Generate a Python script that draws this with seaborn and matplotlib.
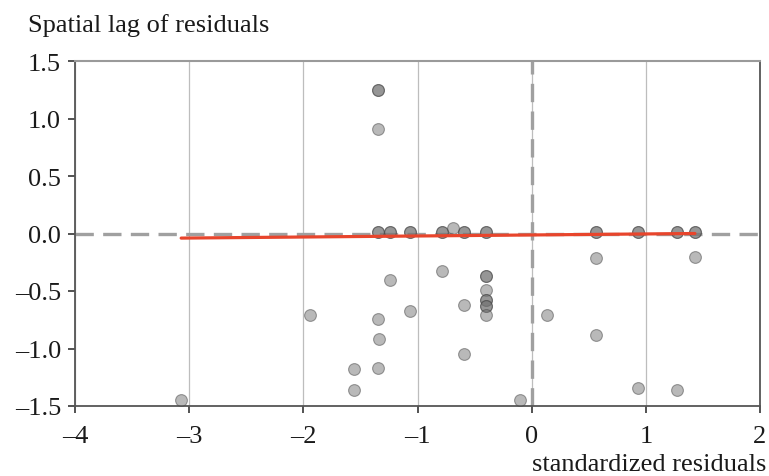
import matplotlib
matplotlib.use("Agg")
import matplotlib.pyplot as plt
import seaborn as sns
import pandas as pd

# standardized residuals (x) and spatial lag of residuals (y); repeated entries = overlapping points
x_res = [-1.35, -1.35, -1.24, -1.24, -1.07, -1.07, -0.785, -0.785, -0.59, -0.59,
         -0.40, -0.40, 0.56, 0.56, 0.93, 0.93, 1.27, 1.27, 1.43, 1.43,
         -0.69, -1.35, -1.35, -1.35,
         -3.07, -1.94, -1.555, -1.555, -1.35, -1.34, -1.35, -1.24, -1.07,
         -0.785, -0.59, -0.59, -0.40, -0.40, -0.40, -0.40, -0.40, -0.40, -0.40, -0.40,
         -0.105, 0.13, 0.56, 0.56, 0.93, 1.27, 1.43]
y_lag = [0.01, 0.01, 0.01, 0.01, 0.01, 0.01, 0.01, 0.01, 0.01, 0.01,
         0.01, 0.01, 0.01, 0.01, 0.01, 0.01, 0.01, 0.01, 0.01, 0.01,
         0.045, 1.245, 1.245, 0.91,
         -1.445, -0.71, -1.18, -1.36, -0.74, -0.92, -1.17, -0.40, -0.67,
         -0.33, -0.62, -1.05, -0.37, -0.37, -0.49, -0.58, -0.58, -0.63, -0.63, -0.71,
         -1.445, -0.71, -0.21, -0.88, -1.34, -1.36, -0.20]

# fitted regression line (Moran slope)
fit_x = [-3.07, 1.43]
fit_y = [-0.04, 0.0]

x_ticks = [-4, -3, -2, -1, 0, 1, 2]
y_ticks = [-1.5, -1.0, -0.5, 0.0, 0.5, 1.0, 1.5]

sns.set_style("white")
plt.rcParams['font.family'] = ['Liberation Serif', 'DejaVu Serif']
plt.rcParams['font.size'] = 19

df = pd.DataFrame({"x": x_res, "y": y_lag})
fit = pd.DataFrame({"x": fit_x, "y": fit_y})

fig = plt.figure(figsize=(7.69, 4.77), dpi=100)
ax = fig.add_axes([75/769, 1-407/477, (760-75)/769, (407-62)/477])

ax.set_xlim(-4, 2)
ax.set_ylim(-1.5, 1.5)
ax.set_xticks(x_ticks)
ax.set_yticks(y_ticks)
ax.set_xticklabels([str(v).replace("-", "\u2013") for v in x_ticks])
ax.set_yticklabels([f"{v:.1f}".replace("-", "\u2013") for v in y_ticks])

ax.grid(axis="x", color="#bdbdbd", linewidth=0.9)
ax.grid(axis="y", visible=False)
ax.set_axisbelow(True)

ax.axhline(0, color="#a0a0a0", linewidth=2.4, dashes=(5.5, 2.8), zorder=2)
ax.axvline(0, color="#a0a0a0", linewidth=2.4, dashes=(5.5, 2.8), zorder=2)

sns.scatterplot(data=df, x="x", y="y", ax=ax, s=72, color="#757575", alpha=0.5,
                edgecolor="#454545", linewidth=0.8, zorder=3, legend=False)
sns.lineplot(data=fit, x="x", y="y", ax=ax, color="#e8452c", linewidth=2.3,
             zorder=4, legend=False)

ax.set_xlabel("")
ax.set_ylabel("")

for side in ["left", "bottom", "right"]:
    ax.spines[side].set_color("#555555")
    ax.spines[side].set_linewidth(1.3)
ax.spines["top"].set_color("#9a9a9a")
ax.spines["top"].set_linewidth(1.5)

ax.tick_params(axis="both", which="major", direction="out", length=5, width=1.3,
               color="#444444", labelsize=19, labelcolor="#1a1a1a")
ax.tick_params(axis="x", pad=9, bottom=True)
ax.tick_params(axis="y", pad=5, left=True)

fig.text(28/769, 1-32/477, "Spatial lag of residuals", ha="left", va="baseline",
         fontsize=19, color="#1a1a1a")
fig.text(766/769, 1-471/477, "standardized residuals", ha="right", va="baseline",
         fontsize=19, color="#1a1a1a")

fig.savefig("out.png", dpi=100)
